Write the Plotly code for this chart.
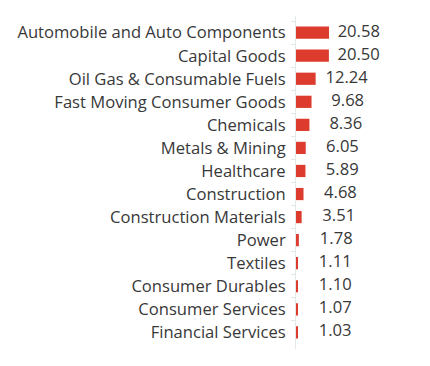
import plotly.graph_objects as go

categories = [
    "Automobile and Auto Components", "Capital Goods", "Oil Gas & Consumable Fuels",
    "Fast Moving Consumer Goods", "Chemicals", "Metals & Mining", "Healthcare",
    "Construction", "Construction Materials", "Power", "Textiles",
    "Consumer Durables", "Consumer Services", "Financial Services",
]
values = [20.58, 20.50, 12.24, 9.68, 8.36, 6.05, 5.89, 4.68, 3.51, 1.78, 1.11, 1.10, 1.07, 1.03]
labels = [f"{v:.2f}" for v in values]

FONT = dict(family="Open Sans", size=16.6, color="#383838")

# value labels are right-aligned in a column that drifts slightly with the value
label_x = [33.7 + 0.904 * v for v in values]

fig = go.Figure()
fig.add_trace(go.Bar(
    x=values, y=categories, orientation="h",
    marker=dict(color="#dc3b2d", line=dict(width=0)),
    width=0.53, hoverinfo="x+y",
))
fig.add_trace(go.Scatter(
    x=label_x, y=categories, mode="text", text=labels,
    textposition="middle left", textfont=FONT, cliponaxis=False,
    hoverinfo="skip",
))
fig.update_layout(
    width=422, height=358,
    margin=dict(l=288, r=0, t=8, b=16.5, autoexpand=False),
    paper_bgcolor="white", plot_bgcolor="white",
    showlegend=False,
    font=FONT,
)
fig.update_xaxes(range=[0, 83.5], visible=False, automargin=False)
fig.update_yaxes(
    autorange="reversed", showline=True, linecolor="#e2e8e2", linewidth=1,
    ticks="outside", tickson="boundaries", ticklen=4, tickcolor="#e2e8e2",
    showgrid=False, ticklabelstandoff=6, automargin=False,
    tickfont=FONT,
)
fig.write_html("out.html")
